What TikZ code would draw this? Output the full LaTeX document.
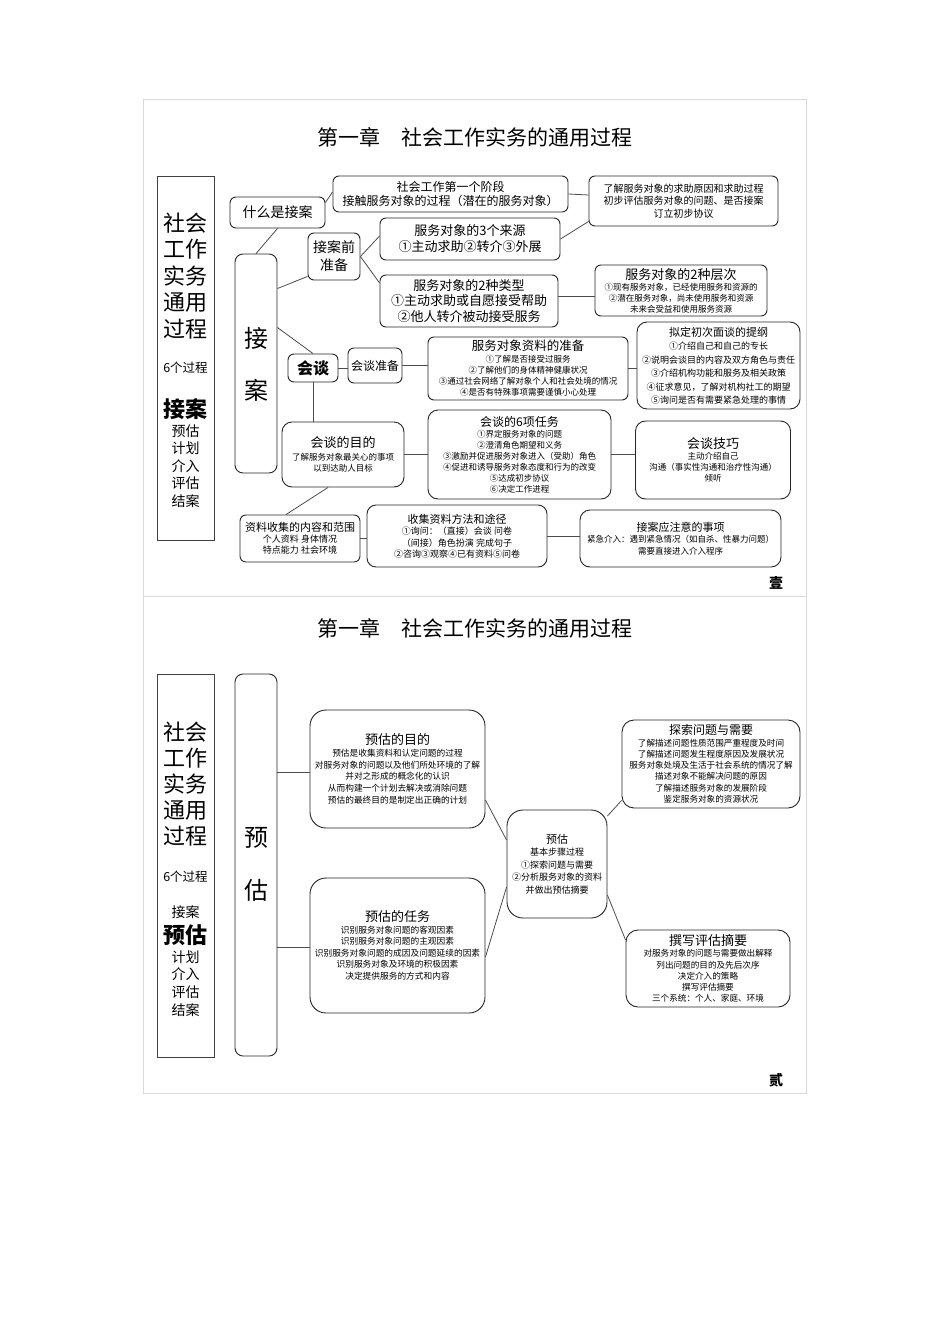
\documentclass[tikz,border=0pt]{standalone}
\usepackage{fontspec}
\setmainfont{Noto Sans CJK SC}
\usetikzlibrary{calc}
\newcommand\myfs[2]{\fontsize{#1}{#2}\selectfont}
\begin{document}
\begin{tikzpicture}[x=1pt,y=-1pt,
  box/.style={draw=black!85, line width=0.9pt, rounded corners=6pt, align=center, inner sep=1pt},
  bbox/.style={box, rounded corners=16pt},
  sq/.style={draw=black!75, line width=0.9pt},
  txt/.style={align=center, inner sep=0pt},
  conn/.style={draw=black!70, line width=0.8pt},
  frm/.style={draw=black!15, line width=0.8pt},
  sz/.style 2 args={minimum width=#1pt, minimum height=#2pt},
]
\fill[white] (0,0) rectangle (950,1344);
\useasboundingbox (0,0) rectangle (950,1344);
\draw[frm] (143,99) rectangle (806,596);
\draw[frm] (143,596) rectangle (806,1093);

% ================= page 1 =================
\node[txt, font=\myfs{21}{24}] (t1) at (475,137) {第一章\hspace{1em}社会工作实务的通用过程};

\node[sq, sz={57}{364}] (col1) at (185.5,358) {};
\node[txt, font=\myfs{22}{26.5}] (c1a) at (185.5,276) {社会\\工作\\实务\\通用\\过程};
\node[txt, font=\myfs{12.5}{14}] (c1b) at (185.5,368) {6个过程};
\node[txt, font=\myfs{22}{26}\bfseries] (c1c) at (185.5,409) {接案};
\node[txt, font=\myfs{14}{17.5}] (c1d) at (185.5,466) {预估\\计划\\介入\\评估\\结案};

\node[box, rounded corners=8pt, sz={42}{219}] (jiean) at (256,363.5) {};
\node[txt, font=\myfs{24}{24}] (jie) at (256,338) {接};
\node[txt, font=\myfs{24}{24}] (an) at (256,390) {案};

\node[box, sz={95}{31}, font=\myfs{14}{16}] (what) at (277.5,212.5) {什么是接案};
\node[box, sz={235}{36}, font=\myfs{12}{14}] (stage1) at (450.5,194) {社会工作第一个阶段\\接触服务对象的过程（潜在的服务对象）};
\node[box, sz={189}{50}, font=\myfs{10}{12.5}] (understand) at (683.5,201) {了解服务对象的求助原因和求助过程\\初步评估服务对象的问题、是否接案\\订立初步协议};
\node[box, sz={52}{47}, font=\myfs{14}{18}] (prep) at (334,256.5) {接案前\\准备};
\node[box, sz={180}{42}, font=\myfs{13}{16}] (src3) at (470,239) {服务对象的3个来源\\①主动求助②转介③外展};
\node[box, sz={178}{52}, font=\myfs{13}{15.5}] (type2) at (469,301) {服务对象的2种类型\\①主动求助或自愿接受帮助\\②他人转介被动接受服务};
\node[box, sz={172}{51}, font=\myfs{8.5}{11}] (level2) at (681,290.5) {{\myfs{13}{15}服务对象的2种层次}\\①现有服务对象，已经使用服务和资源的\\②潜在服务对象，尚未使用服务和资源\\未来会受益和使用服务资源};

\node[box, sz={50}{28}, font=\myfs{16}{18}\bfseries] (talk) at (313,368) {会谈};
\node[box, sz={54}{35}, font=\myfs{12}{14}] (talkprep) at (375,365.5) {会谈准备};
\node[box, sz={200}{63}, font=\myfs{8.5}{11}] (dataprep) at (528,368.5) {{\myfs{12.5}{14}服务对象资料的准备}\\[1pt]①了解是否接受过服务\\②了解他们的身体精神健康状况\\③通过社会网络了解对象个人和社会处境的情况\\④是否有特殊事项需要谨慎小心处理};
\node[box, rounded corners=10pt, sz={163}{87}, font=\myfs{9}{13.5}] (outline) at (718.5,365.5) {{\myfs{11}{13}拟定初次面谈的提纲}\\①介绍自己和自己的专长\\②说明会谈目的内容及双方角色与责任\\③介绍机构功能和服务及相关政策\\④征求意见，了解对机构社工的期望\\⑤询问是否有需要紧急处理的事情};

\node[box, rounded corners=10pt, sz={122}{65}, font=\myfs{8.5}{11}] (purpose) at (343,454.5) {{\myfs{13}{15}会谈的目的}\\[2pt]了解服务对象最关心的事项\\以到达助人目标};
\node[box, rounded corners=10pt, sz={183}{89}, font=\myfs{8.5}{11}] (tasks6) at (519.5,454.5) {{\myfs{12}{14}会谈的6项任务}\\①界定服务对象的问题\\②澄清角色期望和义务\\③激励并促进服务对象进入（受助）角色\\④促进和诱导服务对象态度和行为的改变\\⑤达成初步协议\\⑥决定工作进程};
\node[box, rounded corners=10pt, sz={155}{78}, font=\myfs{8.5}{11}] (skill) at (713,460) {{\myfs{13}{15}会谈技巧}\\主动介绍自己\\沟通（事实性沟通和治疗性沟通）\\倾听};

\node[box, sz={120}{47}, font=\myfs{9}{11}] (collect) at (300,538.5) {{\myfs{11}{13}资料收集的内容和范围}\\个人资料 身体情况\\特点能力 社会环境};
\node[box, rounded corners=9pt, sz={180}{62}, font=\myfs{9}{11.5}] (method) at (457,536) {{\myfs{11}{13}收集资料方法和途径}\\①询问：（直接）会谈 问卷\\（间接）角色扮演 完成句子\\②咨询③观察④已有资料⑤问卷};
\node[box, rounded corners=10pt, sz={201}{57}, font=\myfs{8.5}{11.5}] (notice) at (680.5,538.5) {{\myfs{11}{13}接案应注意的事项}\\紧急介入：遇到紧急情况（如自杀、性暴力问题）\\需要直接进入介入程序};

\node[txt, font=\myfs{14}{16}\bfseries] (p1) at (776,583) {壹};

% connectors page 1
\draw[conn] (what.south) -- (jiean.north);
\draw[conn] ([yshift=10pt]what.east) -- ([yshift=2pt]stage1.west);
\draw[conn] (stage1.east) -- ([yshift=6pt]understand.west);
\draw[conn] ([yshift=75pt]jiean.east) -- ([yshift=4pt]prep.south west);
\draw[conn] (prep.east) -- ([yshift=3pt]src3.west);
\draw[conn] (prep.east) -- ([yshift=18pt]type2.west);
\draw[conn] (src3.east) -- ([yshift=5pt]understand.south west);
\coordinate (a1) at ([yshift=5pt]type2.east);
\draw[conn] (a1) -- (a1 -| level2.west);
\draw[conn] ([yshift=36pt]jiean.east) -- (talk.north);
\draw[conn] (talk.east) -- (talk.east -| talkprep.west);
\draw[conn] (talkprep.east) -- (talkprep.east -| dataprep.west);
\draw[conn] (dataprep.east) -- (dataprep.east -| outline.west);
\draw[conn] (talk.south) -- (talk.south |- purpose.north);
\draw[conn] (purpose.east) -- (purpose.east -| tasks6.west);
\draw[conn] (tasks6.east) -- (tasks6.east -| skill.west);
\draw[conn] ([xshift=-15pt]purpose.south) -- ([xshift=-14pt]collect.north);
\draw[conn] (collect.east) -- (collect.east -| method.west);
\draw[conn] (method.east) -- (method.east -| notice.west);

% ================= page 2 =================
\node[txt, font=\myfs{21}{24}] (t2) at (475,628) {第一章\hspace{1em}社会工作实务的通用过程};

\node[sq, sz={57}{383}] (col2) at (185.5,865.5) {};
\node[txt, font=\myfs{22}{26.2}] (c2a) at (185.5,784) {社会\\工作\\实务\\通用\\过程};
\node[txt, font=\myfs{12.5}{14}] (c2b) at (185.5,877) {6个过程};
\node[txt, font=\myfs{14}{16}] (c2c) at (185.5,912) {接案};
\node[txt, font=\myfs{22}{26}\bfseries] (c2d) at (185.5,935) {预估};
\node[txt, font=\myfs{14}{17.7}] (c2e) at (185.5,983.5) {计划\\介入\\评估\\结案};

\node[box, rounded corners=8pt, sz={42}{382}] (yugu) at (256,865) {};
\node[txt, font=\myfs{24}{24}] (yu) at (256,838) {预};
\node[txt, font=\myfs{24}{24}] (gu) at (256,890) {估};

\node[bbox, sz={175}{118}, font=\myfs{8.7}{11.7}] (purpose2) at (397.5,769) {{\myfs{13}{15}预估的目的}\\预估是收集资料和认定问题的过程\\对服务对象的问题以及他们所处环境的了解\\并对之形成的概念化的认识\\从而构建一个计划去解决或消除问题\\预估的最终目的是制定出正确的计划};
\node[bbox, sz={175}{135}, font=\myfs{8.7}{11.5}] (task2) at (397.5,945.5) {{\myfs{13}{15}预估的任务}\\识别服务对象问题的客观因素\\识别服务对象问题的主观因素\\识别服务对象问题的成因及问题延续的因素\\识别服务对象及环境的积极因素\\决定提供服务的方式和内容};
\node[bbox, sz={100}{108}, font=\myfs{9}{12.5}] (center) at (557,864) {{\myfs{11}{13}预估}\\基本步骤过程\\①探索问题与需要\\②分析服务对象的资料\\并做出预估摘要};
\node[bbox, rounded corners=12pt, sz={178}{88}, font=\myfs{8.6}{11.3}] (explore) at (711,764) {{\myfs{12}{14}探索问题与需要}\\了解描述问题性质范围严重程度及时间\\了解描述问题发生程度原因及发展状况\\服务对象处境及生活于社会系统的情况了解\\描述对象不能解决问题的原因\\了解描述服务对象的发展阶段\\鉴定服务对象的资源状况};
\node[bbox, rounded corners=12pt, sz={164}{77}, font=\myfs{8.6}{11.3}] (write) at (708,968.5) {{\myfs{13}{15}撰写评估摘要}\\对服务对象的问题与需要做出解释\\列出问题的目的及先后次序\\决定介入的策略\\撰写评估摘要\\三个系统：个人、家庭、环境};

\node[txt, font=\myfs{14}{16}\bfseries] (p2) at (776,1080) {贰};

% connectors page 2
\coordinate (b1) at ([yshift=93pt]yugu.east);
\draw[conn] (b1) -- (b1 -| purpose2.west);
\coordinate (b2) at ([yshift=-82pt]yugu.east);
\draw[conn] (b2) -- (b2 -| task2.west);
\draw[conn] ([yshift=-31pt]purpose2.east) -- ([yshift=24pt]center.west);
\draw[conn] ([yshift=-11.5pt]task2.east) -- ([yshift=-23pt]center.west);
\draw[conn] ([yshift=48pt]center.east) -- ([yshift=8pt]explore.south west);
\draw[conn] ([yshift=-31pt]center.east) -- ([yshift=28.5pt]write.west);
\end{tikzpicture}
\end{document}
